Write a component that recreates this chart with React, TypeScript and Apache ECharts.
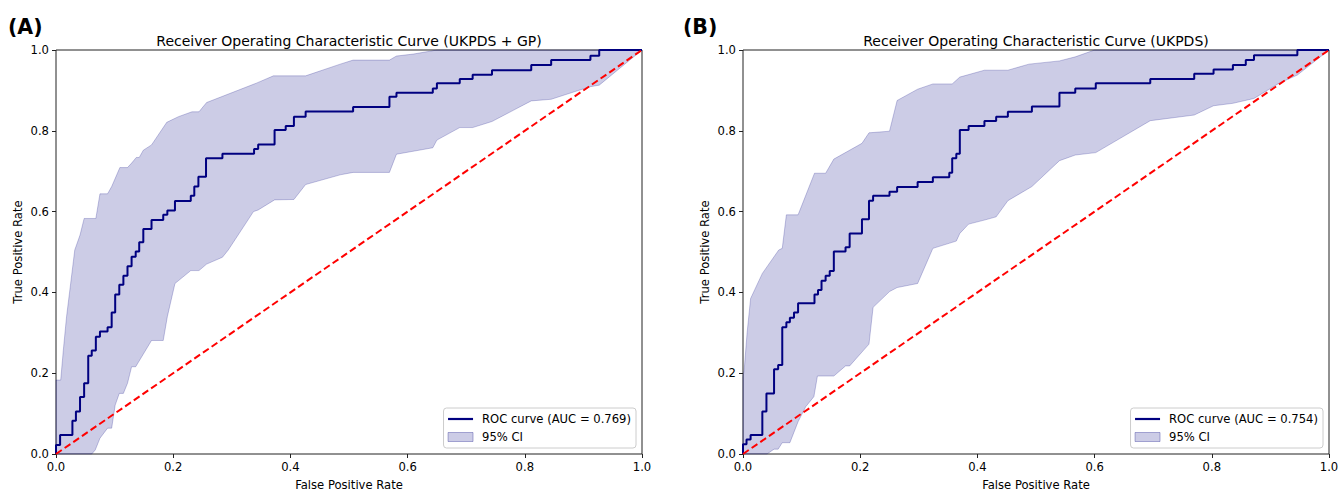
import React, { useEffect, useRef } from "react";
import * as echarts from "echarts";

const FONT = "DejaVu Sans";

const panelLabels = ["(A)", "(B)"];
const panelTitles = [
  "Receiver Operating Characteristic Curve (UKPDS + GP)",
  "Receiver Operating Characteristic Curve (UKPDS)",
];
const rocNames = ["ROC curve (AUC = 0.769)", "ROC curve (AUC = 0.754)"];
const ciName = "95% CI";

// Panel A: UKPDS + GP
const rocA: number[][] = [
  [0, 0], [0, 0.022], [0.007, 0.047], [0.028, 0.082], [0.034, 0.105], [0.041, 0.141],
  [0.048, 0.175], [0.055, 0.243], [0.061, 0.256], [0.068, 0.29], [0.075, 0.303],
  [0.088, 0.314], [0.095, 0.35], [0.101, 0.395], [0.108, 0.419], [0.115, 0.441],
  [0.122, 0.465], [0.129, 0.488], [0.136, 0.501], [0.142, 0.524], [0.149, 0.557],
  [0.163, 0.579], [0.183, 0.592], [0.19, 0.603], [0.203, 0.626], [0.23, 0.639],
  [0.236, 0.662], [0.243, 0.686], [0.256, 0.732], [0.284, 0.743], [0.338, 0.755],
  [0.345, 0.766], [0.373, 0.802], [0.392, 0.812], [0.406, 0.835], [0.426, 0.848],
  [0.507, 0.859], [0.569, 0.884], [0.581, 0.894], [0.643, 0.905], [0.65, 0.918],
  [0.689, 0.928], [0.711, 0.939], [0.744, 0.95], [0.811, 0.963], [0.845, 0.975],
  [0.912, 0.986], [0.927, 1.0], [1.0, 1.0],
];
const ciUpperA: number[][] = [
  [0, 0.183], [0.008, 0.183], [0.0125, 0.257], [0.018, 0.34], [0.025, 0.422],
  [0.032, 0.505], [0.041, 0.542], [0.048, 0.583], [0.068, 0.583], [0.075, 0.644],
  [0.088, 0.644], [0.095, 0.662], [0.109, 0.709], [0.122, 0.709], [0.129, 0.72],
  [0.137, 0.734], [0.142, 0.734], [0.149, 0.752], [0.163, 0.765], [0.189, 0.821],
  [0.209, 0.835], [0.232, 0.847], [0.244, 0.847], [0.257, 0.87], [0.342, 0.918],
  [0.371, 0.936], [0.426, 0.936], [0.485, 0.965], [0.507, 0.975], [0.569, 0.975],
  [0.581, 0.985], [0.61, 0.99], [0.65, 1.0], [1.0, 1.0],
];
const ciLowerA: number[][] = [
  [0, 0], [0.061, 0], [0.067, 0.01], [0.075, 0.039], [0.088, 0.064], [0.095, 0.064],
  [0.101, 0.121], [0.108, 0.15], [0.115, 0.15], [0.122, 0.175], [0.129, 0.216],
  [0.136, 0.216], [0.163, 0.281], [0.183, 0.281], [0.19, 0.34], [0.203, 0.422],
  [0.23, 0.454], [0.244, 0.454], [0.257, 0.47], [0.284, 0.487], [0.294, 0.505],
  [0.337, 0.6], [0.345, 0.604], [0.373, 0.629], [0.406, 0.63], [0.426, 0.667],
  [0.485, 0.691], [0.507, 0.697], [0.569, 0.697], [0.581, 0.742], [0.643, 0.758],
  [0.65, 0.777], [0.689, 0.808], [0.711, 0.808], [0.744, 0.823], [0.811, 0.874],
  [0.845, 0.878], [0.911, 0.909], [0.927, 0.913], [1.0, 1.0],
];

// Panel B: UKPDS
const rocB: number[][] = [
  [0, 0], [0, 0.024], [0.006, 0.036], [0.013, 0.047], [0.033, 0.105], [0.04, 0.15],
  [0.053, 0.21], [0.06, 0.22], [0.067, 0.314], [0.074, 0.326], [0.08, 0.337],
  [0.087, 0.35], [0.094, 0.373], [0.122, 0.395], [0.128, 0.406], [0.134, 0.429],
  [0.141, 0.441], [0.148, 0.453], [0.155, 0.501], [0.175, 0.512], [0.182, 0.546],
  [0.203, 0.581], [0.215, 0.627], [0.222, 0.639], [0.25, 0.649], [0.263, 0.661],
  [0.298, 0.673], [0.324, 0.685], [0.352, 0.696], [0.357, 0.732], [0.364, 0.743],
  [0.37, 0.802], [0.385, 0.812], [0.412, 0.824], [0.432, 0.835], [0.452, 0.847],
  [0.493, 0.86], [0.54, 0.894], [0.567, 0.905], [0.602, 0.918], [0.695, 0.928],
  [0.77, 0.941], [0.803, 0.952], [0.836, 0.963], [0.858, 0.975], [0.872, 0.987],
  [0.946, 1.0], [1.0, 1.0],
];
const ciUpperB: number[][] = [
  [0, 0.19], [0.002, 0.208], [0.007, 0.3], [0.013, 0.385], [0.033, 0.447],
  [0.061, 0.505], [0.067, 0.509], [0.074, 0.592], [0.094, 0.592], [0.122, 0.695],
  [0.141, 0.695], [0.155, 0.73], [0.203, 0.769], [0.215, 0.795], [0.25, 0.799],
  [0.263, 0.875], [0.298, 0.903], [0.324, 0.916], [0.357, 0.916], [0.37, 0.933],
  [0.412, 0.95], [0.452, 0.95], [0.488, 0.965], [0.54, 0.973], [0.567, 0.983],
  [0.6, 1.0], [1.0, 1.0],
];
const ciLowerB: number[][] = [
  [0, 0], [0.041, 0], [0.053, 0.012], [0.06, 0.012], [0.067, 0.028], [0.08, 0.028],
  [0.094, 0.08], [0.107, 0.117], [0.121, 0.142], [0.127, 0.193], [0.155, 0.193],
  [0.175, 0.218], [0.182, 0.218], [0.215, 0.272], [0.222, 0.363], [0.25, 0.402],
  [0.263, 0.412], [0.298, 0.422], [0.324, 0.509], [0.364, 0.527], [0.37, 0.546],
  [0.385, 0.569], [0.412, 0.579], [0.432, 0.587], [0.452, 0.627], [0.493, 0.662],
  [0.54, 0.726], [0.567, 0.74], [0.602, 0.746], [0.695, 0.825], [0.77, 0.839],
  [0.803, 0.862], [0.836, 0.868], [0.872, 0.88], [0.915, 0.918], [0.946, 0.938],
  [1.0, 1.0],
];

const diagonal: number[][] = [[0, 0], [1, 1]];

const NAVY = "#000080";
const BAND_FILL = "rgba(0,0,128,0.2)";
const BAND_EDGE = "rgba(0,0,128,0.22)";

export default function App() {
  const ref = useRef<HTMLDivElement>(null);

  useEffect(() => {
    if (!ref.current) return;
    const chart = echarts.init(ref.current, undefined, { renderer: "svg" });

    const grids = [
      { left: 56, top: 50, width: 586, height: 404 },
      { left: 743, top: 50, width: 586, height: 404 },
    ];
    const rocs = [rocA, rocB];
    const uppers = [ciUpperA, ciUpperB];
    const lowers = [ciLowerA, ciLowerB];

    const xAxes: any[] = [];
    const yAxes: any[] = [];
    const series: any[] = [];
    const legends: any[] = [];
    const graphics: any[] = [];

    grids.forEach((g, i) => {
      const axisCommon = {
        type: "value",
        gridIndex: i,
        min: 0,
        max: 1,
        interval: 0.2,
        splitLine: { show: false },
        axisLine: { show: false },
        axisTick: { show: true, length: 4, lineStyle: { color: "#222", width: 1 } },
        axisLabel: {
          color: "#000",
          fontFamily: FONT,
          fontSize: 11.6,
          margin: 7,
          formatter: (v: number) => v.toFixed(1),
        },
        nameTextStyle: { color: "#000", fontFamily: FONT, fontSize: 11.6 },
        nameLocation: "middle",
      };
      xAxes.push({ ...axisCommon, name: "False Positive Rate", nameGap: 25 });
      yAxes.push({ ...axisCommon, name: "True Positive Rate", nameGap: 32 });

      const poly = [...uppers[i], ...lowers[i].slice().reverse()];
      series.push({
        type: "custom",
        name: ciName,
        xAxisIndex: i,
        yAxisIndex: i,
        z: 1,
        itemStyle: { color: BAND_FILL, borderColor: BAND_EDGE, borderWidth: 1 },
        data: [[0, 0]],
        renderItem: (_params: any, api: any) => ({
          type: "polygon",
          shape: { points: poly.map((p) => api.coord(p)) },
          style: { fill: BAND_FILL, stroke: BAND_EDGE, lineWidth: 1 },
        }),
      });
      series.push({
        type: "line",
        name: rocNames[i],
        xAxisIndex: i,
        yAxisIndex: i,
        z: 2,
        step: "end",
        symbol: "none",
        data: rocs[i],
        itemStyle: { color: NAVY },
        lineStyle: { color: NAVY, width: 2 },
      });
      series.push({
        type: "line",
        name: "diag" + i,
        xAxisIndex: i,
        yAxisIndex: i,
        z: 3,
        symbol: "none",
        data: diagonal,
        lineStyle: { color: "#ff0000", width: 2, type: [7, 3.5] },
      });

      legends.push({
        orient: "vertical",
        right: 1344 - (g.left + g.width) + 6,
        bottom: 492 - (g.top + g.height) + 6,
        backgroundColor: "rgba(255,255,255,0.8)",
        borderColor: "#cccccc",
        borderWidth: 1,
        borderRadius: 3,
        padding: [5, 5, 5, 4],
        itemGap: 6,
        itemWidth: 25,
        itemHeight: 9,
        selectedMode: false,
        textStyle: {
          color: "#000",
          fontFamily: FONT,
          fontSize: 11.6,
          lineHeight: 12,
          padding: [0, 0, 0, 4],
        },
        data: [
          { name: rocNames[i], icon: "path://M0,0H25V2.2H0Z" },
          {
            name: ciName,
            icon: "rect",
            itemStyle: { color: BAND_FILL, borderColor: "rgba(0,0,128,0.3)", borderWidth: 1 },
          },
        ],
      });

      graphics.push({
        type: "text",
        x: g.left + g.width / 2,
        y: 40.5,
        style: {
          text: panelTitles[i],
          fontFamily: FONT,
          fontSize: 14,
          fill: "#000",
          textAlign: "center",
          textVerticalAlign: "middle",
        },
      });
      graphics.push({
        type: "text",
        x: i === 0 ? 8 : 683,
        y: 26.5,
        style: {
          text: panelLabels[i],
          fontFamily: FONT,
          fontSize: 20.5,
          fontWeight: "bold",
          fill: "#000",
          textAlign: "left",
          textVerticalAlign: "middle",
        },
      });
    });

    chart.setOption({
      animation: false,
      backgroundColor: "#ffffff",
      textStyle: { fontFamily: FONT },
      grid: grids.map((g) => ({
        ...g,
        show: true,
        borderColor: "#222",
        borderWidth: 1,
        backgroundColor: "transparent",
        containLabel: false,
        outerBoundsMode: "none",
      })),
      xAxis: xAxes,
      yAxis: yAxes,
      legend: legends,
      series,
      graphic: graphics,
    });

    return () => chart.dispose();
  }, []);

  return (
    <div
      ref={ref}
      style={{ position: "fixed", left: 0, top: 0, width: 1344, height: 492, background: "#fff" }}
    />
  );
}
